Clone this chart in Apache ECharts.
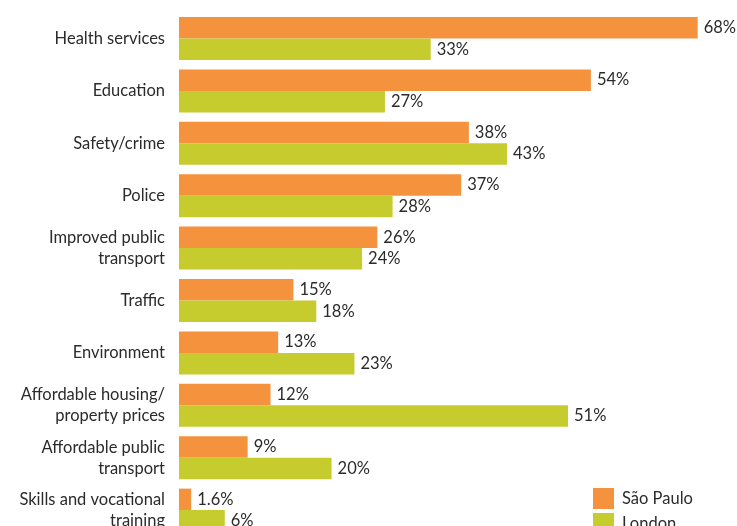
<!DOCTYPE html>
<html>
<head>
<meta charset="utf-8">
<script src="https://cdn.jsdelivr.net/npm/echarts@6/dist/echarts.min.js"></script>
<style>
  html, body { margin: 0; padding: 0; background: #fff; overflow: hidden; }
  #chart { width: 737px; height: 537px; }
</style>
</head>
<body>
<div id="chart"></div>
<script>
// Top priorities for improvement, share of respondents (%)
const categories = [
  'Health services',
  'Education',
  'Safety/crime',
  'Police',
  'Improved public\ntransport',
  'Traffic',
  'Environment',
  'Affordable housing/\nproperty prices',
  'Affordable public\ntransport',
  'Skills and vocational\ntraining'
];
const saoPaulo = [68, 54, 38, 37, 26, 15, 13, 12, 9, 1.6];
const london = [33, 27, 43, 28, 24, 18, 23, 51, 20, 6];
const seriesNames = ['São Paulo', 'London'];
const seriesColors = ['#F5923E', '#C6CC2E'];

const FONT = 'Lato';
const TEXT = '#2b2b2b';

const labelOpt = {
  show: true,
  position: 'right',
  distance: 6,
  color: TEXT,
  fontFamily: FONT,
  fontSize: 16.5,
  formatter: p => p.value + '%'
};

const chart = echarts.init(document.getElementById('chart'), null, { renderer: 'canvas' });
chart.setOption({
  animation: false,
  textStyle: { fontFamily: FONT },
  legend: {
    orient: 'vertical',
    left: 593,
    top: 488,
    height: 80,
    padding: 0,
    itemWidth: 21,
    itemHeight: 21,
    itemGap: 4,
    icon: 'rect',
    textStyle: { color: TEXT, fontFamily: FONT, fontSize: 16.5, padding: [0, 0, 0, 3] },
    data: seriesNames
  },
  grid: { left: 179, right: 39.3, top: 12.3, height: 524, containLabel: false },
  xAxis: {
    type: 'value',
    min: 0,
    max: 68,
    show: false
  },
  yAxis: {
    type: 'category',
    inverse: true,
    data: categories,
    axisLine: { show: false },
    axisTick: { show: false },
    splitLine: { show: false },
    axisLabel: {
      margin: 14,
      color: TEXT,
      fontFamily: FONT,
      fontSize: 16.5,
      lineHeight: 21,
      align: 'right'
    }
  },
  series: [
    {
      name: seriesNames[0],
      type: 'bar',
      data: saoPaulo,
      barGap: '0%',
      barCategoryGap: '18%',
      itemStyle: { color: seriesColors[0] },
      label: labelOpt
    },
    {
      name: seriesNames[1],
      type: 'bar',
      data: london,
      barGap: '0%',
      barCategoryGap: '18%',
      itemStyle: { color: seriesColors[1] },
      label: labelOpt
    }
  ]
});
</script>
</body>
</html>
